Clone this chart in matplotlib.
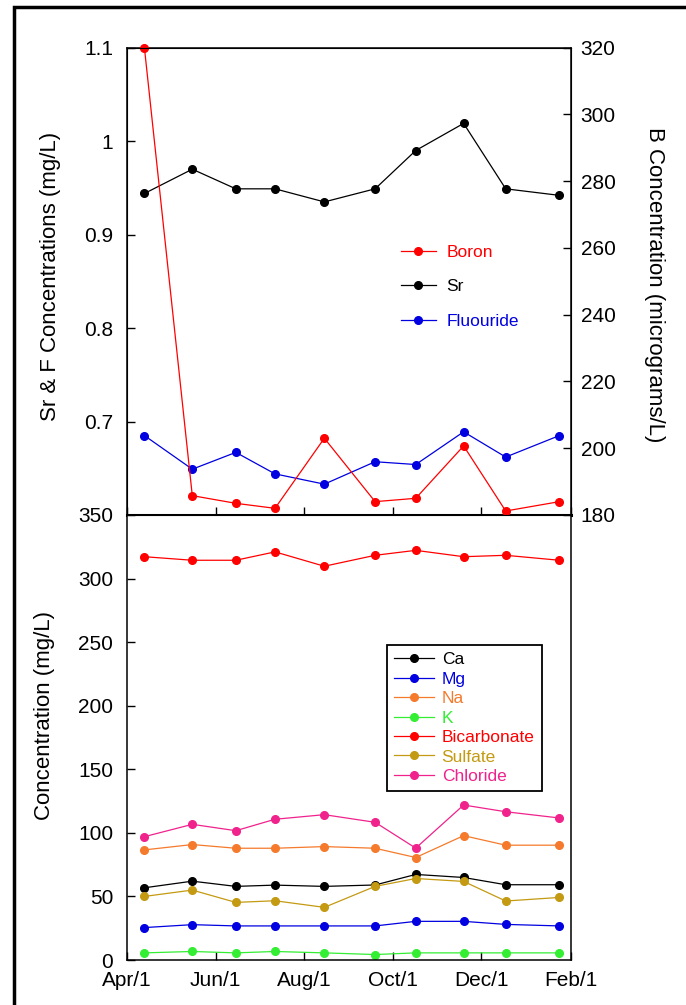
import datetime as dt
import matplotlib
matplotlib.use("Agg")
import matplotlib.pyplot as plt
import matplotlib.dates as mdates
from matplotlib.patches import Rectangle
from matplotlib.ticker import FuncFormatter

plt.rcParams["font.family"] = ["Liberation Sans", "DejaVu Sans"]

# sampling dates (one sample per month, Apr -> Jan)
dates = [dt.date(2001, 4, 13), dt.date(2001, 5, 16), dt.date(2001, 6, 15),
         dt.date(2001, 7, 12), dt.date(2001, 8, 15), dt.date(2001, 9, 19),
         dt.date(2001, 10, 17), dt.date(2001, 11, 19), dt.date(2001, 12, 18),
         dt.date(2002, 1, 24)]

# top panel: Sr & F in mg/L, boron in micrograms/L
sr = [0.944, 0.970, 0.949, 0.949, 0.935, 0.949, 0.990, 1.019, 0.949, 0.942]
fluoride = [0.685, 0.649, 0.667, 0.644, 0.633, 0.657, 0.654, 0.689, 0.662, 0.685]
boron = [320, 185.8, 183.5, 182, 203, 184, 185, 200.7, 181.2, 184]

# bottom panel: major ions in mg/L
ca = [56.8, 62, 57.9, 58.9, 57.9, 59, 67.3, 64.9, 59.2, 59.2]
mg = [25.5, 27.8, 26.8, 26.8, 26.8, 26.8, 30.4, 30.4, 28, 26.8]
na = [86.6, 90.8, 87.9, 87.9, 89.2, 87.9, 80.6, 97.8, 90.3, 90.3]
k = [5.6, 6.7, 5.6, 6.7, 5.6, 4.3, 5.6, 5.6, 5.6, 5.6]
bicarbonate = [317.2, 314.4, 314.4, 321, 309.7, 318.3, 322.2, 317.2, 318.3, 314.4]
sulfate = [50, 55, 45.3, 46.6, 41.4, 57.9, 64.1, 61.8, 46.4, 49.2]
chloride = [97, 106.7, 101.7, 110.7, 114.3, 108.3, 88, 121.9, 116.6, 111.7]

ions = [("Ca", ca, "#000000"), ("Mg", mg, "#0000e0"), ("Na", na, "#f57a2c"),
        ("K", k, "#33ee33"), ("Bicarbonate", bicarbonate, "#ff0000"),
        ("Sulfate", sulfate, "#c49a12"), ("Chloride", chloride, "#f0228c")]

W, H = 686, 1005
fig = plt.figure(figsize=(W / 100, H / 100), dpi=100)

L, R = 127, 571
ax_top = fig.add_axes([L / W, 1 - 515 / H, (R - L) / W, (515 - 47.7) / H])
ax_bot = fig.add_axes([L / W, 1 - 960 / H, (R - L) / W, (960 - 515) / H])

mk = dict(marker="o", markersize=5.5, linewidth=0.9)

l_sr, = ax_top.plot(dates, sr, color="black", label="Sr", **mk)
l_f, = ax_top.plot(dates, fluoride, color="#0000e0", label="Fluouride", **mk)
ax_b = ax_top.twinx()
l_b, = ax_b.plot(dates, boron, color="#ff0000", label="Boron", clip_on=False, **mk)

for name, vals, col in ions:
    ax_bot.plot(dates, vals, color=col, label=name, **mk)

xmin, xmax = dt.date(2001, 4, 1), dt.date(2002, 2, 1)
for a in (ax_top, ax_bot):
    a.set_xlim(xmin, xmax)
    a.xaxis.set_major_locator(mdates.MonthLocator(bymonth=[2, 4, 6, 8, 10, 12]))
    a.xaxis.set_major_formatter(mdates.DateFormatter("%b/%-d"))
    a.tick_params(direction="in", length=6, width=1, labelsize=15)
    for s in a.spines.values():
        s.set_linewidth(1.1)

ax_top.tick_params(axis="x", labelbottom=False)
ax_top.spines["bottom"].set_linewidth(2.2)
ax_top.set_ylim(0.6, 1.1)
ax_top.set_yticks([0.7, 0.8, 0.9, 1.0, 1.1])
ax_top.yaxis.set_major_formatter(FuncFormatter(lambda v, p: "%g" % round(v, 2)))
ax_top.tick_params(axis="y", pad=10)

ax_b.set_ylim(180, 320)
ax_b.set_yticks(range(180, 321, 20))
ax_b.tick_params(direction="in", length=6, width=1, labelsize=15, pad=7)

ax_bot.set_ylim(0, 350)
ax_bot.set_yticks(range(0, 351, 50))
ax_bot.tick_params(axis="y", pad=10)
ax_bot.tick_params(axis="x", pad=8)

fig.text(51 / W, 1 - 276 / H, "Sr & F Concentrations (mg/L)", rotation=90,
         ha="center", va="center", fontsize=16)
fig.text(654 / W, 1 - 285 / H, "B Concentration (micrograms/L)", rotation=270,
         ha="center", va="center", fontsize=16)
fig.text(45 / W, 1 - 715 / H, "Concentration (mg/L)", rotation=90,
         ha="center", va="center", fontsize=16)

ax_b.legend(handles=[l_b, l_sr, l_f], loc="upper left",
            bbox_to_anchor=((401 - L) / (R - L), (515 - 245) / 467.3),
            frameon=False, fontsize=12.5, labelcolor="linecolor",
            handlelength=2.0, handletextpad=0.6, labelspacing=1.1,
            borderpad=0, borderaxespad=0)

leg = ax_bot.legend(loc="upper left",
                    bbox_to_anchor=((387 - L) / (R - L), (960 - 645) / 445),
                    fontsize=12.5, labelcolor="linecolor", fancybox=False,
                    edgecolor="black", framealpha=1, handlelength=2.3,
                    handletextpad=0.45, labelspacing=0.25, borderpad=0.4,
                    borderaxespad=0)
leg.get_frame().set_linewidth(1.3)

# outer frame around the figure
fig.patches.append(Rectangle((14 / W, -0.02), 1.1, 1 - 7 / H + 0.02,
                             transform=fig.transFigure, fill=False,
                             edgecolor="black", linewidth=2.5))

fig.savefig("out.png", dpi=100)
